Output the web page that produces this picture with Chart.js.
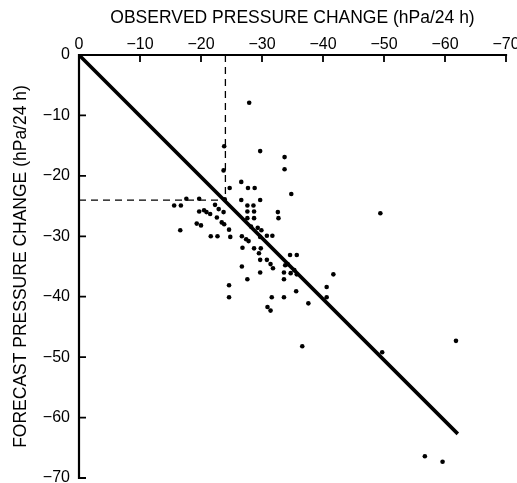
<!DOCTYPE html>
<html>
<head>
<meta charset="utf-8">
<script src="https://cdn.jsdelivr.net/npm/chart.js@4/dist/chart.umd.min.js"></script>
<style>
  html, body { margin: 0; padding: 0; background: #fff; }
  #wrap { width: 517px; height: 483px; position: relative; }
</style>
</head>
<body>
<div id="wrap"><canvas id="pressure-chart"></canvas></div>
<script>
// Observed vs forecast 24 h pressure change (hPa)
const observed = [
  -27.9, -23.8, -29.7, -33.7, -33.7, -23.7, -26.6, -24.7, -27.7, -28.8,
  -34.8, -17.6, -19.7, -23.9, -26.6, -29.7, -15.6, -16.7, -27.6, -28.6,
  -19.7, -20.5, -20.9, -21.5, -22.3, -22.9, -23.7, -27.6, -28.7, -32.6,
  -32.7, -22.6, -27.6, -28.7, -19.3, -20.0, -23.4, -23.8, -16.6, -24.6,
  -29.3, -29.9, -21.6, -22.7, -24.8, -26.7, -27.4, -27.8, -29.7, -30.8,
  -31.7, -26.8, -28.7, -29.8, -29.5, -29.7, -30.8, -31.4, -31.8, -34.6,
  -35.7, -33.8, -26.7, -29.7, -33.6, -34.7, -35.3, -35.7, -41.7, -27.6,
  -33.6, -24.6, -40.6, -35.6, -24.6, -31.6, -33.6, -40.6, -37.6, -30.9,
  -31.4, -36.6, -49.7, -61.8, -56.7, -59.6, -49.4, -28.2, -34.2
];
const forecast = [
  -7.9, -15.1, -15.9, -16.9, -18.9, -19.1, -21.0, -22.0, -22.0, -22.0,
  -23.0, -23.8, -23.8, -23.9, -24.0, -24.0, -24.9, -24.9, -24.9, -24.9,
  -25.9, -25.7, -26.0, -26.3, -24.8, -25.5, -26.0, -25.9, -25.9, -26.0,
  -27.0, -26.9, -27.0, -27.0, -27.9, -28.2, -27.7, -28.0, -29.0, -28.9,
  -28.6, -29.0, -30.0, -30.0, -30.1, -30.0, -30.5, -30.8, -30.1, -29.9,
  -29.9, -31.9, -32.0, -32.0, -32.8, -33.9, -33.9, -34.6, -35.3, -33.1,
  -33.1, -34.8, -35.0, -36.0, -36.0, -36.1, -35.6, -36.3, -36.3, -37.1,
  -37.1, -38.1, -38.4, -39.1, -40.1, -40.1, -40.1, -40.1, -41.1, -41.7,
  -42.3, -48.2, -49.2, -47.3, -66.4, -67.3, -26.2, -28.4, -34.6
];

// regression line end points
const fitX = [0, -62.1];
const fitY = [0, -62.7];

// dashed guide at -24 hPa
const guideValue = -24;

const tickValues = [0, -10, -20, -30, -40, -50, -60, -70];

const fontFamily = '"Liberation Sans", Arial, sans-serif';

function tickLabel(value) {
  return value === 0 ? '0' : '\u2212' + Math.abs(value);
}

/**
 * Draws the heavy axis lines with ticks pointing into the plot
 */
const inwardAxes = {
  id: 'inwardAxes',
  afterDraw(chart) {
    const { ctx, chartArea, scales } = chart;
    const x = scales.x;
    const y = scales.y;
    ctx.save();
    ctx.strokeStyle = '#000';
    ctx.lineWidth = 2.2;
    ctx.lineCap = 'square';
    ctx.beginPath();
    ctx.moveTo(chartArea.left, chartArea.top);
    ctx.lineTo(chartArea.right, chartArea.top);
    ctx.moveTo(chartArea.left, chartArea.top);
    ctx.lineTo(chartArea.left, chartArea.bottom);
    ctx.stroke();

    ctx.lineWidth = 1.8;
    ctx.lineCap = 'butt';
    ctx.beginPath();
    tickValues.forEach(v => {
      if (v === 0) return;
      const px = x.getPixelForValue(v);
      ctx.moveTo(px, chartArea.top);
      ctx.lineTo(px, chartArea.top + 7);
      const py = y.getPixelForValue(v);
      ctx.moveTo(chartArea.left, py);
      ctx.lineTo(chartArea.left + 7, py);
    });
    ctx.stroke();
    ctx.restore();
  }
};

function buildPoints() {
  return observed.map((v, i) => ({ x: v, y: forecast[i] }));
}

function initChart() {
  const ctx = document.getElementById('pressure-chart');

  new Chart(ctx, {
    type: 'scatter',
    data: {
      datasets: [
        {
          label: 'Cases',
          data: buildPoints(),
          backgroundColor: '#000',
          borderColor: '#000',
          pointRadius: 2.3,
          pointBorderWidth: 0
        },
        {
          label: 'Fit',
          type: 'line',
          data: fitX.map((v, i) => ({ x: v, y: fitY[i] })),
          borderColor: '#000',
          borderWidth: 3.6,
          pointRadius: 0,
          fill: false
        },
        {
          label: 'Guide vertical',
          type: 'line',
          data: [{ x: guideValue, y: 0 }, { x: guideValue, y: guideValue }],
          borderColor: '#000',
          borderWidth: 1.3,
          borderDash: [7, 5],
          pointRadius: 0,
          fill: false
        },
        {
          label: 'Guide horizontal',
          type: 'line',
          data: [{ x: 0, y: guideValue }, { x: guideValue, y: guideValue }],
          borderColor: '#000',
          borderWidth: 1.3,
          borderDash: [7, 5],
          pointRadius: 0,
          fill: false
        }
      ]
    },
    options: {
      responsive: true,
      maintainAspectRatio: false,
      animation: false,
      layout: {
        padding: { top: 0, right: 11, bottom: 5, left: 0 }
      },
      plugins: {
        legend: { display: false },
        tooltip: { enabled: false }
      },
      scales: {
        x: {
          type: 'linear',
          position: 'top',
          reverse: true,
          min: -70,
          max: 0,
          afterFit: scale => {
            scale.height = 55;
            scale.paddingLeft = 0;
            scale.paddingRight = 0;
          },
          afterBuildTicks: scale => {
            scale.ticks = tickValues.map(v => ({ value: v }));
          },
          grid: { display: false, drawTicks: false },
          border: { display: false },
          ticks: {
            autoSkip: false,
            maxRotation: 0,
            padding: 1,
            color: '#000',
            font: { family: fontFamily, size: 16 },
            callback: tickLabel
          },
          title: {
            display: true,
            text: 'OBSERVED PRESSURE CHANGE (hPa/24 h)',
            color: '#000',
            padding: { top: 8, bottom: 0 },
            font: { family: fontFamily, size: 17.5 }
          }
        },
        y: {
          type: 'linear',
          min: -70,
          max: 0,
          afterFit: scale => {
            scale.width = 79;
            scale.paddingTop = 0;
            scale.paddingBottom = 0;
          },
          afterBuildTicks: scale => {
            scale.ticks = tickValues.map(v => ({ value: v }));
          },
          grid: { display: false, drawTicks: false },
          border: { display: false },
          ticks: {
            autoSkip: false,
            padding: 9,
            color: '#000',
            font: { family: fontFamily, size: 16 },
            callback: tickLabel
          },
          title: {
            display: true,
            text: 'FORECAST PRESSURE CHANGE (hPa/24 h)',
            color: '#000',
            padding: { top: 11, bottom: 0 },
            font: { family: fontFamily, size: 17.5 }
          }
        }
      }
    },
    plugins: [inwardAxes]
  });
}

if (document.readyState === 'loading') {
  document.addEventListener('DOMContentLoaded', initChart);
} else {
  initChart();
}
</script>
</body>
</html>
